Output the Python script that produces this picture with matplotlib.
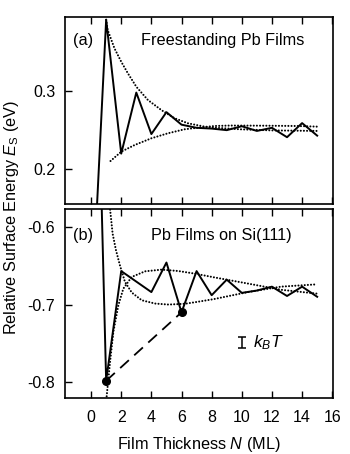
import matplotlib
matplotlib.use('Agg')
import matplotlib.pyplot as plt

plt.rcParams['font.family'] = ['Liberation Sans', 'DejaVu Sans']
plt.rcParams['mathtext.fontset'] = 'custom'
plt.rcParams['mathtext.rm'] = 'Liberation Sans'
plt.rcParams['mathtext.it'] = 'Liberation Sans:italic'
plt.rcParams['mathtext.bf'] = 'Liberation Sans:bold'

# ---- data ----
thickness = [0, 1, 2, 3, 4, 5, 6, 7, 8, 9, 10, 11, 12, 13, 14, 15]
free_energy = [0.0, 0.391, 0.220, 0.298, 0.245, 0.273, 0.257, 0.253, 0.252,
               0.250, 0.255, 0.249, 0.253, 0.241, 0.259, 0.243]
si_energy = [-0.04, -0.798, -0.657, -0.6705, -0.684, -0.646, -0.710, -0.657,
             -0.688, -0.668, -0.685, -0.682, -0.677, -0.689, -0.677, -0.690]

# envelopes
free_upper_N = [1.0, 1.1, 1.55, 2.0, 2.44, 3.0, 3.77, 4.66, 5.55, 6.44, 7.55, 8.2, 10.0, 12.0, 15.0]
free_upper_E = [0.391, 0.378, 0.3545, 0.3374, 0.3226, 0.3055, 0.2885, 0.2757, 0.2651,
                0.2587, 0.2544, 0.2531, 0.2510, 0.2497, 0.2490]
free_lower_N = [1.29, 2.0, 2.89, 4.0, 5.1, 6.2, 7.3, 8.2, 9.25, 11.5, 13.7, 15.0]
free_lower_E = [0.2106, 0.2225, 0.231, 0.2396, 0.246, 0.2511, 0.2536, 0.2553, 0.2559,
                0.2557, 0.2553, 0.2545]

si_a_N = [1.22, 1.43, 1.65, 1.92, 2.25, 2.7, 3.36, 4.24, 5.13, 6.23, 6.9, 8.15, 10.4, 12.6, 15.0]
si_a_E = [-0.570, -0.609, -0.630, -0.650, -0.671, -0.6846, -0.6945, -0.6987, -0.700,
          -0.699, -0.697, -0.693, -0.684, -0.677, -0.674]
si_b_N = [0.98, 1.04, 1.26, 1.48, 1.81, 2.14, 2.69, 3.58, 4.68, 5.78, 6.9, 8.15, 10.4, 12.6, 15.0]
si_b_E = [-0.83, -0.8166, -0.7736, -0.735, -0.701, -0.6795, -0.6646, -0.6573, -0.6551,
          -0.6569, -0.6603, -0.665, -0.673, -0.681, -0.686]

kbt = 0.013          # eV, size of the k_B T bar
kbt_pos = (10.0, -0.7487)

x_ticks = [0, 2, 4, 6, 8, 10, 12, 14, 16]
top_yticks = [0.2, 0.3]
bot_yticks = [-0.8, -0.7, -0.6]

# ---- figure ----
fig = plt.figure(figsize=(3.5, 4.54), dpi=100)
ax1 = fig.add_axes([65/350, 1-204/454, 268/350, 187/454])
ax2 = fig.add_axes([65/350, 1-398/454, 268/350, 189/454])

lw = 1.4
dot_style = dict(color='black', lw=1.5, linestyle=(0, (0.01, 1.5)),
                 dash_capstyle='round')

# panel (a)
ax1.plot(thickness, free_energy, color='black', lw=lw)
ax1.plot(free_upper_N, free_upper_E, **dot_style)
ax1.plot(free_lower_N, free_lower_E, **dot_style)
ax1.set_xlim(-1.73, 16.05)
ax1.set_ylim(0.1557, 0.3945)
ax1.set_xticks(x_ticks)
ax1.set_yticks(top_yticks)
ax1.set_yticklabels(['0.2', '0.3'])
ax1.tick_params(labelbottom=False)
ax1.text(0.03, 0.873, '(a)', transform=ax1.transAxes, fontsize=11.7,
         ha='left', va='center')
ax1.text(0.59, 0.873, 'Freestanding Pb Films', transform=ax1.transAxes,
         fontsize=11.7, ha='center', va='center')

# panel (b)
ax2.plot(thickness, si_energy, color='black', lw=lw)
ax2.plot(si_a_N, si_a_E, **dot_style)
ax2.plot(si_b_N, si_b_E, **dot_style)
ax2.plot([thickness[1], thickness[6]], [si_energy[1], si_energy[6]],
         color='black', lw=1.3, linestyle=(0, (6.5, 4)))
ax2.plot([thickness[1], thickness[6]], [si_energy[1], si_energy[6]],
         'o', color='black', markersize=5.5, zorder=5)
ax2.errorbar([kbt_pos[0]], [kbt_pos[1]], yerr=[kbt/2], fmt='none',
             ecolor='black', elinewidth=1.1, capsize=2.6, capthick=1.1)
ax2.text(kbt_pos[0] + 0.75, kbt_pos[1], r'$k_BT$', fontsize=12.5,
         ha='left', va='center')
ax2.set_xlim(-1.73, 16.05)
ax2.set_ylim(-0.8201, -0.5772)
ax2.set_xticks(x_ticks)
ax2.set_xticklabels([str(t) for t in x_ticks])
ax2.set_yticks(bot_yticks)
ax2.set_yticklabels(['-0.8', '-0.7', '-0.6'])
ax2.text(0.03, 0.862, '(b)', transform=ax2.transAxes, fontsize=11.7,
         ha='left', va='center')
ax2.text(0.585, 0.862, 'Pb Films on Si(111)', transform=ax2.transAxes,
         fontsize=11.7, ha='center', va='center')
ax2.set_xlabel(r'Film Thickness $N$ (ML)', fontsize=11.7, labelpad=7)

for ax in (ax1, ax2):
    for s in ax.spines.values():
        s.set_linewidth(1.2)
    ax.tick_params(direction='in', length=5, width=1.0, top=True,
                   right=False, labelsize=11.5, pad=7)
    ax.tick_params(axis='x', pad=8.5)

fig.text(12/350, 1-218/454, r'Relative Surface Energy $E_{\mathrm{S}}$ (eV)',
         rotation=90, ha='center', va='center', fontsize=11.7)

fig.savefig('out.png', dpi=100)
